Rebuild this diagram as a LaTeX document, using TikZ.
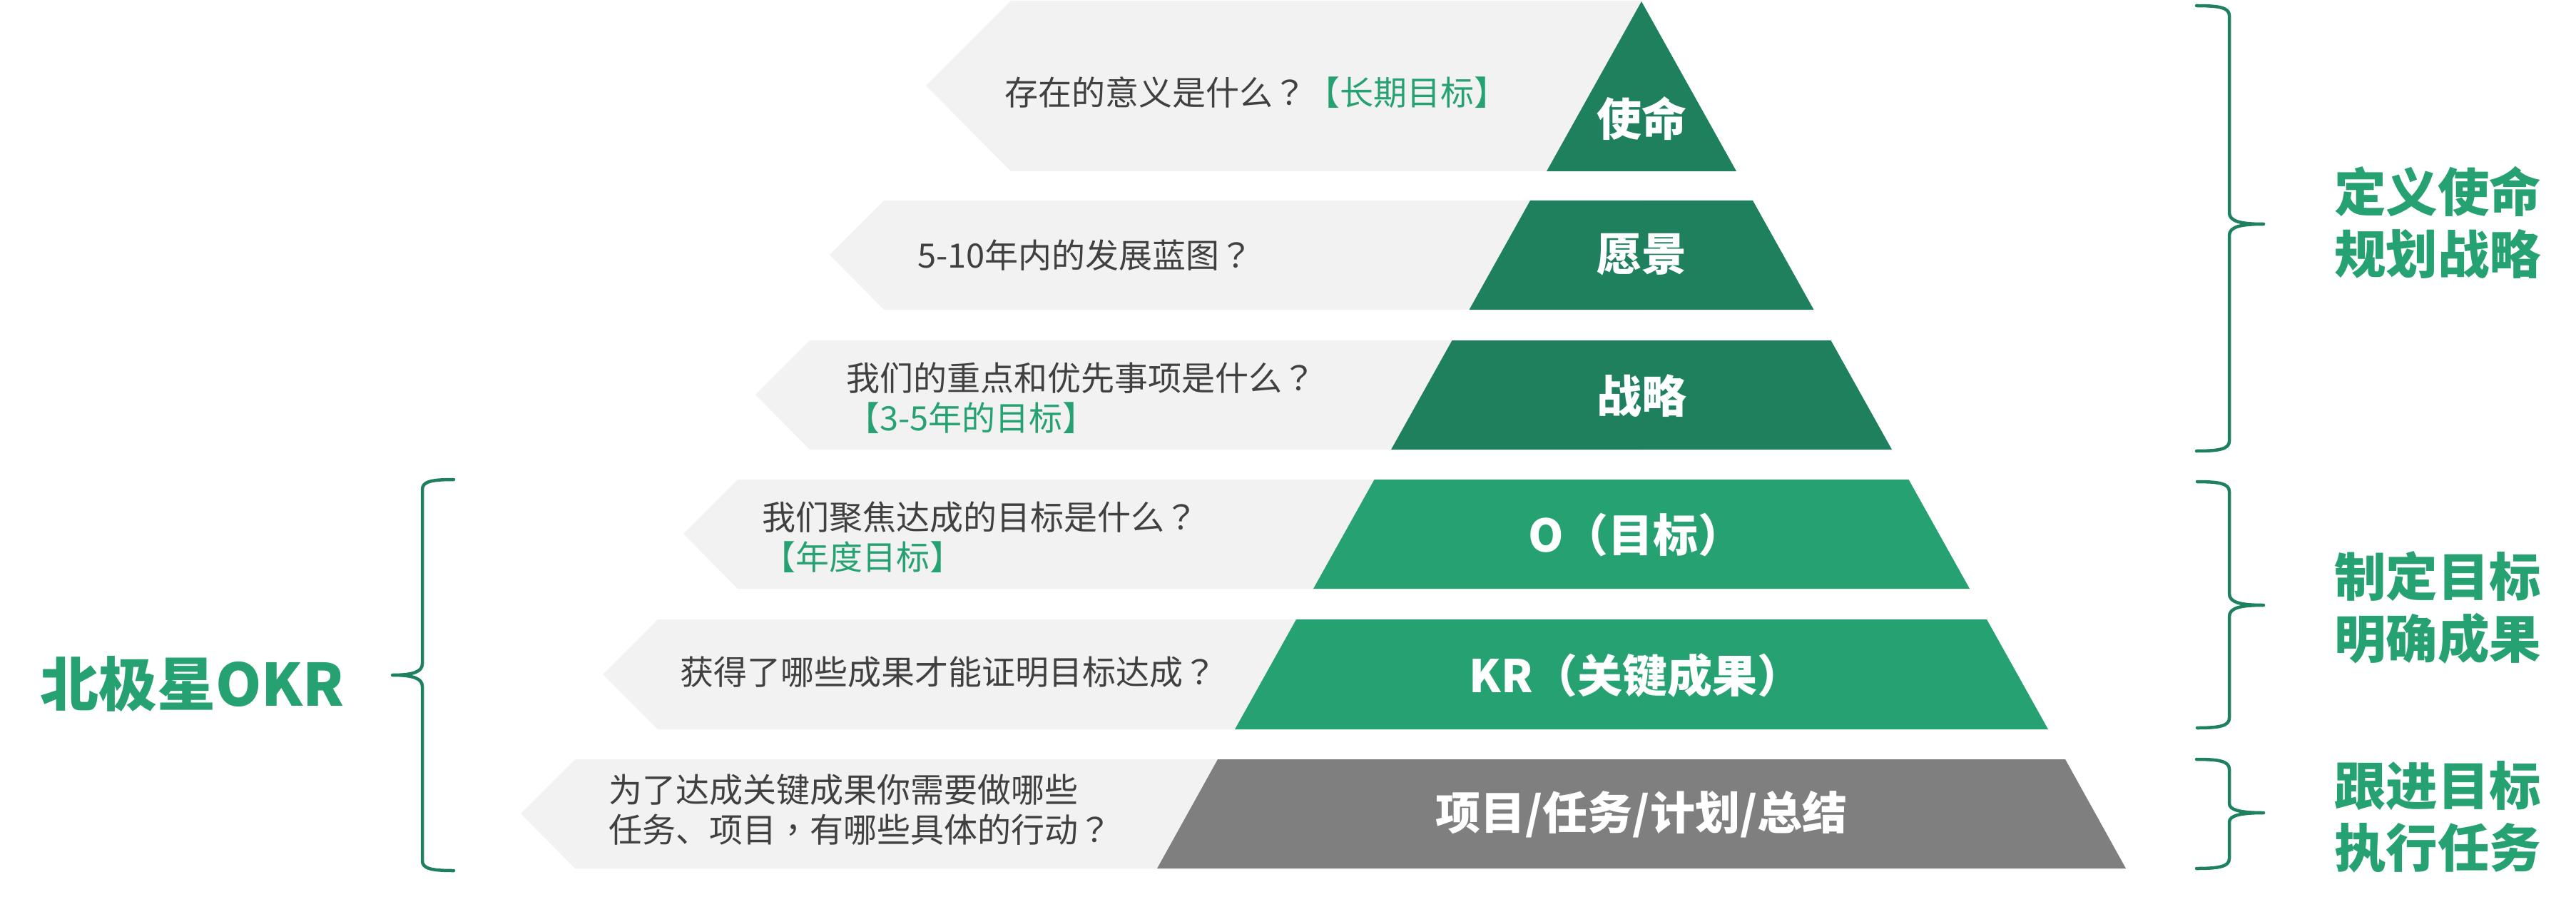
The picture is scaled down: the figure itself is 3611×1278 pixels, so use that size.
\documentclass[tikz,border=0pt]{standalone}
\usepackage{fontspec}
\setmainfont{Noto Sans CJK SC}
\newfontfamily\tcpunct{Noto Sans CJK TC}
\newcommand{\qm}{{\tcpunct ？}}
\newcommand{\lp}{{\tcpunct （}}
\newcommand{\rp}{{\tcpunct ）}}
\newcommand{\cm}{{\tcpunct ，}}
\definecolor{bandgray}{HTML}{F2F2F2}
\definecolor{darkgreen}{HTML}{1F805E}
\definecolor{midgreen}{HTML}{26A272}
\definecolor{stepgray}{HTML}{7F7F7F}
\definecolor{textgray}{HTML}{404040}
\definecolor{okgreen}{HTML}{26A272}
\definecolor{bracegreen}{HTML}{1F805E}
\begin{document}
\begin{tikzpicture}[x=0.2pt,y=-0.2pt,
  band/.style={fill=bandgray},
  q/.style={anchor=west, inner sep=0pt, text=textgray, align=left,
    font=\fontsize{9.4pt}{11.2pt}\selectfont},
  lvl/.style={inner sep=0pt, text=white, font=\bfseries\fontsize{12.6pt}{15pt}\selectfont},
  side/.style={inner sep=0pt, text=midgreen, align=center,
    font=\bfseries\fontsize{14.5pt}{17.4pt}\selectfont},
  bracepath/.style={draw=bracegreen, line width=0.9pt, line cap=round, line join=round}]
\useasboundingbox (0,0) rectangle (3611,1278);
\fill[white] (0,0) rectangle (3611,1278);

% ---- gray bands ----
\fill[band] (1298,120) -- (1417,1) -- (2301,1) -- (2301,240) -- (1417,240) -- cycle;
\fill[band] (1163,357) -- (1239,281) -- (2301,281) -- (2301,434) -- (1239,434) -- cycle;
\fill[band] (1059,553) -- (1135,477) -- (2301,477) -- (2301,630) -- (1135,630) -- cycle;
\fill[band] (958,748) -- (1034,672) -- (2301,672) -- (2301,825) -- (1034,825) -- cycle;
\fill[band] (845,945) -- (922,868) -- (2301,868) -- (2301,1022) -- (922,1022) -- cycle;
\fill[band] (730,1140) -- (806,1064) -- (2301,1064) -- (2301,1217) -- (806,1217) -- cycle;

% ---- pyramid ----
\fill[darkgreen] (2301,2) -- (2434,240) -- (2168,240) -- cycle;
\fill[darkgreen] (2145,281) -- (2457,281) -- (2542.5,434) -- (2059.5,434) -- cycle;
\fill[darkgreen] (2035.5,477) -- (2566.5,477) -- (2652,630) -- (1950,630) -- cycle;
\fill[midgreen] (1926.5,672) -- (2675.5,672) -- (2761,825) -- (1841,825) -- cycle;
\fill[midgreen] (1817,868) -- (2785,868) -- (2871,1022) -- (1731,1022) -- cycle;
\fill[stepgray] (1707,1064) -- (2895,1064) -- (2980,1217) -- (1622,1217) -- cycle;

% ---- level labels ----
\node[lvl] (l1) at (2301,166) {使命};
\node[lvl] (l2) at (2301,357) {愿景};
\node[lvl] (l3) at (2301,555) {战略};
\node[lvl] (l4) at (2293,750) {O\lp 目标\rp};
\node[lvl] (l5) at (2293,946) {KR\lp 关键成果\rp};
\node[lvl] (l6) at (2301,1141) {项目/任务/计划/总结};

% ---- questions ----
\node[q] (q1) at (1407,130) {存在的意义是什么\qm\textcolor{okgreen}{【长期目标】}};
\node[q] (q2) at (1285,358) {5-10年内的发展蓝图\qm};
\node[q] (q3) at (1185,558) {我们的重点和优先事项是什么\qm\\\textcolor{okgreen}{【3-5年的目标】}};
\node[q] (q4) at (1067,753) {我们聚焦达成的目标是什么\qm\\\textcolor{okgreen}{【年度目标】}};
\node[q] (q5) at (952,942) {获得了哪些成果才能证明目标达成\qm};
\node[q] (q6) at (852,1135) {为了达成关键成果你需要做哪些\\任务、项目\cm 有哪些具体的行动\qm};

% ---- right braces ----
\draw[bracepath] (3079,8) .. controls (3112,8) and (3125,11) .. (3125,22)
  -- (3125,298) .. controls (3125,310) and (3140,314) .. (3173,314)
  .. controls (3140,314) and (3125,318) .. (3125,330)
  -- (3125,618) .. controls (3125,629) and (3112,632) .. (3079,632);
\draw[bracepath] (3080,675) .. controls (3112,675) and (3125,678) .. (3125,689)
  -- (3125,832) .. controls (3125,844) and (3140,848) .. (3173,848)
  .. controls (3140,848) and (3125,852) .. (3125,864)
  -- (3125,1006) .. controls (3125,1017) and (3112,1020) .. (3080,1020);
\draw[bracepath] (3079,1064) .. controls (3112,1064) and (3125,1067) .. (3125,1078)
  -- (3125,1126) .. controls (3125,1135) and (3140,1139) .. (3173,1139)
  .. controls (3140,1139) and (3125,1143) .. (3125,1152)
  -- (3125,1203) .. controls (3125,1214) and (3112,1217) .. (3079,1217);

% ---- left brace ----
\draw[bracepath] (636,672) .. controls (604,672) and (592,675) .. (592,686)
  -- (592,930) .. controls (592,941) and (580,946) .. (550,946)
  .. controls (580,946) and (592,951) .. (592,962)
  -- (592,1206) .. controls (592,1217) and (604,1220) .. (636,1220);

% ---- side labels ----
\node[side] (s1) at (3417,312) {定义使命\\规划战略};
\node[side] (s2) at (3417,852) {制定目标\\明确成果};
\node[side] (s3) at (3417,1145) {跟进目标\\执行任务};
\node[inner sep=0pt, anchor=west, text=midgreen, font=\bfseries\fontsize{16.4pt}{19pt}\selectfont] (okr) at (55,958) {北极星OKR};
\end{tikzpicture}
\end{document}
